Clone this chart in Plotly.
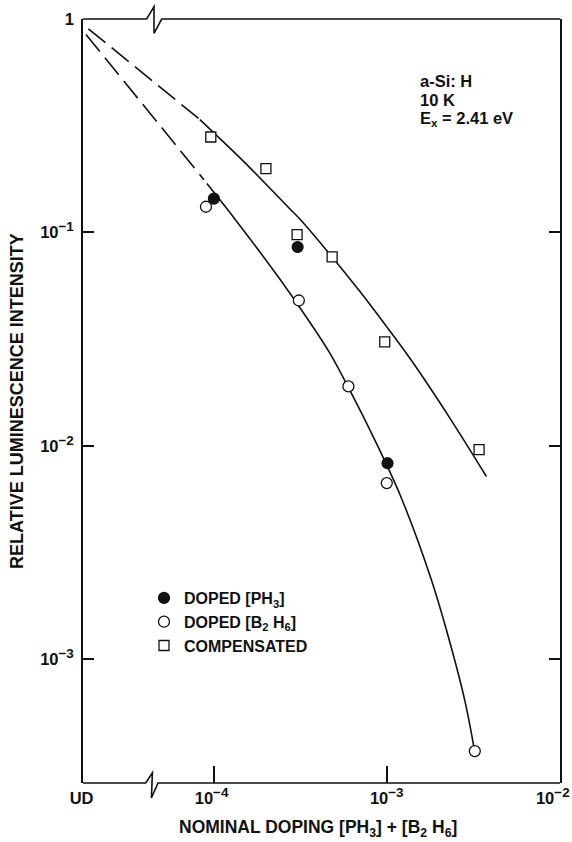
import plotly.graph_objects as go

# ---- data ----
ph3_x = [1.0e-4, 3.05e-4, 1.01e-3]
ph3_y = [0.144, 0.0855, 0.0083]

b2h6_x = [0.90e-4, 3.1e-4, 6.0e-4, 1.0e-3, 3.23e-3]
b2h6_y = [0.132, 0.048, 0.019, 0.0067, 3.72e-4]

comp_x = [0.96e-4, 2.0e-4, 3.03e-4, 4.83e-4, 0.973e-3, 3.42e-3]
comp_y = [0.280, 0.199, 0.0977, 0.0768, 0.0307, 0.0096]

# guide curves
upper_dash_x = [1.88e-5, 8.30e-5]
upper_dash_y = [0.900, 0.338]
upper_x = [8.30e-5, 1.51e-4, 2.72e-4, 3.17e-4, 4.83e-4, 6.98e-4, 9.32e-4, 1.358e-3, 2.312e-3, 3.77e-3]
upper_y = [0.338, 0.2125, 0.1302, 0.1148, 0.0768, 0.0530, 0.0390, 0.0258, 0.01354, 0.00719]

lower_dash_x = [1.82e-5, 8.76e-5]
lower_dash_y = [0.846, 0.1768]
lower_x = [9.11e-5, 1.322e-4, 2.406e-4, 3.509e-4, 4.684e-4, 6.531e-4, 8.52e-4, 1.216e-3, 1.813e-3, 2.214e-3, 2.824e-3, 3.184e-3]
lower_y = [0.1694, 0.1157, 0.0605, 0.0390, 0.02723, 0.01645, 0.01068, 0.00569, 0.002357, 0.001373, 6.45e-4, 3.93e-4]

NB = "\u00a0"


def pow10(e):
    return f"10<sup><span style='font-size:13.5px'>\u2212{e}</span></sup>"


x_tickvals = [10 ** -4.752, 1e-4, 1e-3, 1e-2]
x_ticktext = ["UD" + NB, pow10(4) + NB, pow10(3), pow10(2) + NB * 3]
y_tickvals = [1, 1e-1, 1e-2, 1e-3]
y_ticktext = ["1", pow10(1), pow10(2), pow10(3)]

FONT = "Liberation Sans, Arial, sans-serif"
INK = "#111111"
WEIGHT = "bold"

fig = go.Figure()

line_style = dict(color=INK, width=1.6)
fig.add_trace(go.Scatter(x=upper_dash_x, y=upper_dash_y, mode="lines",
                         line=dict(color=INK, width=1.6, dash="22px,8px"), showlegend=False, hoverinfo="skip"))
fig.add_trace(go.Scatter(x=lower_dash_x, y=lower_dash_y, mode="lines",
                         line=dict(color=INK, width=1.6, dash="22px,8px"), showlegend=False, hoverinfo="skip"))
fig.add_trace(go.Scatter(x=upper_x, y=upper_y, mode="lines", line=dict(shape="spline", **line_style),
                         showlegend=False, hoverinfo="skip"))
fig.add_trace(go.Scatter(x=lower_x, y=lower_y, mode="lines", line=dict(shape="spline", **line_style),
                         showlegend=False, hoverinfo="skip"))

fig.add_trace(go.Scatter(x=ph3_x, y=ph3_y, mode="markers", name="DOPED [PH<sub>3</sub>]",
                         marker=dict(symbol="circle", size=11, color=INK, line=dict(color=INK, width=1.2))))
fig.add_trace(go.Scatter(x=b2h6_x, y=b2h6_y, mode="markers", name="DOPED [B<sub>2</sub> H<sub>6</sub>]",
                         marker=dict(symbol="circle", size=11, color="white", line=dict(color=INK, width=1.3))))
fig.add_trace(go.Scatter(x=comp_x, y=comp_y, mode="markers", name="COMPENSATED",
                         marker=dict(symbol="square", size=10, color="white", line=dict(color=INK, width=1.3))))

L, R, T, B = 83, 12, 19, 59
W, H = 572, 842
pw, ph = W - L - R, H - T - B


def px(xp):
    return (xp - L) / pw


def py(yp):
    return (H - B - yp) / ph


shapes = []
lw = dict(color=INK, width=1.6)
# top frame line with a break
shapes.append(dict(type="path", xref="paper", yref="paper", layer="above", line=lw,
                   path=f"M 0,1 L {px(146.7)},1 L {px(154)},{py(6.7)} L {px(154)},{py(33.3)} L {px(161.7)},1 L 1,1"))
# bottom frame line with a break
shapes.append(dict(type="path", xref="paper", yref="paper", layer="above", line=lw,
                   path=f"M 0,0 L {px(145.7)},0 L {px(152.4)},{py(772.8)} L {px(151.4)},{py(798)} L {px(158)},0 L 1,0"))


def f(size):
    return dict(family=FONT, size=size, color=INK, weight=WEIGHT)


annotations = [
    dict(text="a-Si: H", x=px(418), y=py(81), xref="paper", yref="paper", xanchor="left", yanchor="middle",
         showarrow=False, font=f(16.5)),
    dict(text="10 K", x=px(418), y=py(99.5), xref="paper", yref="paper", xanchor="left", yanchor="middle",
         showarrow=False, font=f(16.5)),
    dict(text="E<sub>x</sub> = 2.41 eV", x=px(418), y=py(119), xref="paper", yref="paper", xanchor="left",
         yanchor="middle", showarrow=False, font=f(16.5)),
    dict(text="RELATIVE LUMINESCENCE INTENSITY", x=px(17), y=py(401), xref="paper", yref="paper",
         textangle=-90, xanchor="center", yanchor="middle", showarrow=False, font=f(18)),
    dict(text="NOMINAL DOPING [PH<sub>3</sub>] + [B<sub>2</sub> H<sub>6</sub>]", x=px(318), y=py(828),
         xref="paper", yref="paper", xanchor="center", yanchor="middle", showarrow=False, font=f(17.5)),
]

fig.update_layout(
    width=W, height=H,
    margin=dict(l=L, r=R, t=T, b=B, autoexpand=False),
    paper_bgcolor="white", plot_bgcolor="white",
    font=f(16),
    shapes=shapes, annotations=annotations,
    legend=dict(x=px(144), y=py(581), xanchor="left", yanchor="top", bgcolor="rgba(0,0,0,0)",
                font=f(16), itemwidth=30, tracegroupgap=0),
    xaxis=dict(type="log", range=[-4.757, -1.998], showgrid=False, zeroline=False, showline=False,
               ticks="inside", ticklen=17, tickwidth=1.5, tickcolor=INK, ticklabeloverflow="allow",
               ticklabelstandoff=3,
               tickvals=x_tickvals, ticktext=x_ticktext, tickfont=f(16.5)),
    yaxis=dict(type="log", range=[-3.579, 0], showgrid=False, zeroline=False, showline=True,
               linecolor=INK, linewidth=1.6, mirror="ticks", ticklabelstandoff=4,
               ticks="inside", ticklen=11, tickwidth=1.5, tickcolor=INK,
               tickvals=y_tickvals, ticktext=y_ticktext, tickfont=f(16.5)),
)

fig.write_html("out.html", config={"displayModeBar": False},
               post_script="document.body.style.margin='0px';document.body.style.overflow='hidden';")
